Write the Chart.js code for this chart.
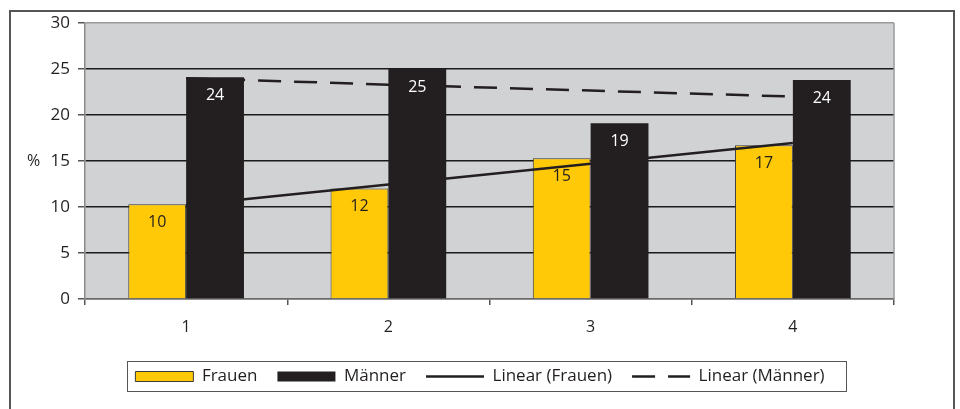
<!DOCTYPE html>
<html>
<head>
<meta charset="utf-8">
<script src="https://cdn.jsdelivr.net/npm/chart.js@4"></script>
<style>
  html, body { margin: 0; padding: 0; background: #fff; }
  #wrap { width: 960px; height: 409px; }
</style>
</head>
<body>
<div id="wrap"><canvas id="chart" width="960" height="409"></canvas></div>
<script>
// Werte
const categories = ['1', '2', '3', '4'];
const frauen = [10.3, 12.0, 15.3, 16.7];
const maenner = [24.1, 25.0, 19.1, 23.8];
const trendFrauen = [10.2, 12.45, 14.7, 16.95];
const trendMaenner = [24.0, 23.3, 22.65, 22.0];
const yTicks = [0, 5, 10, 15, 20, 25, 30];

const FONT = '"Open Sans", "Noto Sans", sans-serif';
const TEXT = '#231f20';
const YELLOW = '#ffc907';
const BLACK = '#231f20';
const DASH = [23, 13];

// Hintergrund, Rahmen, Achsentitel und Legendenrahmen
const decorPlugin = {
    id: 'decor',
    beforeDraw(chart) {
        const { ctx, chartArea: a } = chart;
        ctx.save();
        ctx.fillStyle = '#fff';
        ctx.fillRect(0, 0, chart.width, chart.height);
        ctx.strokeStyle = '#555';
        ctx.lineWidth = 2;
        ctx.strokeRect(10, 11, 944, 420);
        ctx.fillStyle = '#d1d2d4';
        ctx.fillRect(a.left, a.top, a.right - a.left, a.bottom - a.top);
        ctx.restore();
    },
    beforeDatasetsDraw(chart) {
        const { ctx, chartArea: a } = chart;
        ctx.save();
        ctx.strokeStyle = '#9a9a9a';
        ctx.lineWidth = 1.5;
        ctx.beginPath();
        ctx.moveTo(a.right, a.top);
        ctx.lineTo(a.right, a.bottom);
        ctx.stroke();
        ctx.restore();
    },
    afterDraw(chart) {
        const { ctx, chartArea: a } = chart;
        ctx.save();
        ctx.fillStyle = TEXT;
        ctx.font = '16px ' + FONT;
        ctx.textAlign = 'left';
        ctx.textBaseline = 'middle';
        ctx.fillText('%', 27, (a.top + a.bottom) / 2);
        // Legendenrahmen
        const boxes = chart.legend.legendHitBoxes;
        if (boxes && boxes.length) {
            const l = Math.min(...boxes.map(b => b.left));
            const r = Math.max(...boxes.map(b => b.left + b.width));
            const t = Math.min(...boxes.map(b => b.top));
            const h = Math.max(...boxes.map(b => b.height));
            ctx.strokeStyle = '#555';
            ctx.lineWidth = 1;
            ctx.strokeRect(Math.round(l - 8) + 0.5, Math.round(t - 7) + 0.5,
                Math.round(r - l + 30), Math.round(h + 13));
        }
        ctx.restore();
    }
};

// Werte in den Balken
const valueLabels = {
    id: 'valueLabels',
    afterDatasetsDraw(chart) {
        const { ctx } = chart;
        ctx.save();
        ctx.font = '16px ' + FONT;
        ctx.textAlign = 'center';
        ctx.textBaseline = 'middle';
        [0, 1].forEach(i => {
            const meta = chart.getDatasetMeta(i);
            ctx.fillStyle = i === 0 ? TEXT : '#ffffff';
            meta.data.forEach((bar, j) => {
                const v = chart.data.datasets[i].data[j];
                ctx.fillText(String(Math.round(v)), bar.x, bar.y + 18);
            });
        });
        ctx.restore();
    }
};

const ctx = document.getElementById('chart').getContext('2d');
new Chart(ctx, {
    type: 'bar',
    data: {
        labels: categories,
        datasets: [
            {
                label: 'Frauen',
                data: frauen,
                backgroundColor: YELLOW,
                borderColor: '#3a3a3a',
                borderWidth: 1,
                categoryPercentage: 0.572,
                barPercentage: 1,
                pointStyle: 'rect',
                order: 1
            },
            {
                label: 'Männer',
                data: maenner,
                backgroundColor: BLACK,
                borderColor: BLACK,
                borderWidth: 0,
                categoryPercentage: 0.572,
                barPercentage: 1,
                pointStyle: 'rect',
                order: 1
            },
            {
                type: 'line',
                label: 'Linear (Frauen)',
                data: trendFrauen,
                borderColor: BLACK,
                backgroundColor: BLACK,
                borderWidth: 2.5,
                pointRadius: 0,
                pointStyle: 'line',
                fill: false,
                order: 0
            },
            {
                type: 'line',
                label: 'Linear (Männer)',
                data: trendMaenner,
                borderColor: BLACK,
                backgroundColor: BLACK,
                borderWidth: 2.5,
                borderDash: DASH,
                pointRadius: 0,
                pointStyle: 'line',
                fill: false,
                order: 0
            }
        ]
    },
    options: {
        responsive: false,
        animation: false,
        layout: { padding: { left: 0, right: 0, top: 23, bottom: 14 } },
        plugins: {
            tooltip: { enabled: false },
            legend: {
                position: 'bottom',
                labels: {
                    usePointStyle: true,
                    pointStyleWidth: 58,
                    boxHeight: 10,
                    padding: 20,
                    color: TEXT,
                    font: { family: FONT, size: 17 },
                    sort: (a, b) => a.datasetIndex - b.datasetIndex,
                    generateLabels(chart) {
                        const items = Chart.defaults.plugins.legend.labels.generateLabels(chart);
                        items.forEach(it => {
                            const ds = chart.data.datasets[it.datasetIndex];
                            if (ds.type === 'line') {
                                it.lineWidth = 2.5;
                                it.strokeStyle = BLACK;
                                it.lineDash = ds.borderDash || [];
                            }
                        });
                        return items;
                    }
                }
            }
        },
        scales: {
            x: {
                offset: true,
                afterFit(scale) { scale.height = 49; },
                grid: {
                    offset: true,
                    drawOnChartArea: false,
                    drawTicks: true,
                    tickLength: 6,
                    color: '#555',
                    lineWidth: 1.5
                },
                border: { color: '#6a6a6a', width: 1.5 },
                ticks: {
                    color: TEXT,
                    padding: 13,
                    font: { family: FONT, size: 16 }
                }
            },
            y: {
                min: 0,
                max: 30,
                afterFit(scale) { scale.width = 85; },
                afterBuildTicks(scale) { scale.ticks = yTicks.map(v => ({ value: v })); },
                grid: {
                    color: c => (c.tick && c.tick.value === 30) ? '#9a9a9a' : (c.tick && c.tick.value === 0 ? '#6a6a6a' : '#1a1a1a'),
                    lineWidth: 1.5,
                    tickLength: 7,
                    tickColor: '#555'
                },
                border: { color: '#8a8a8a', width: 1.5 },
                ticks: {
                    color: TEXT,
                    padding: 8,
                    font: { family: FONT, size: 17 }
                }
            },
            // leerer Rand rechts neben der Zeichenfläche
            yRight: {
                position: 'right',
                afterFit(scale) { scale.width = 66; },
                grid: { display: false },
                border: { display: false },
                ticks: { display: false }
            }
        }
    },
    plugins: [decorPlugin, valueLabels]
});
</script>
</body>
</html>
